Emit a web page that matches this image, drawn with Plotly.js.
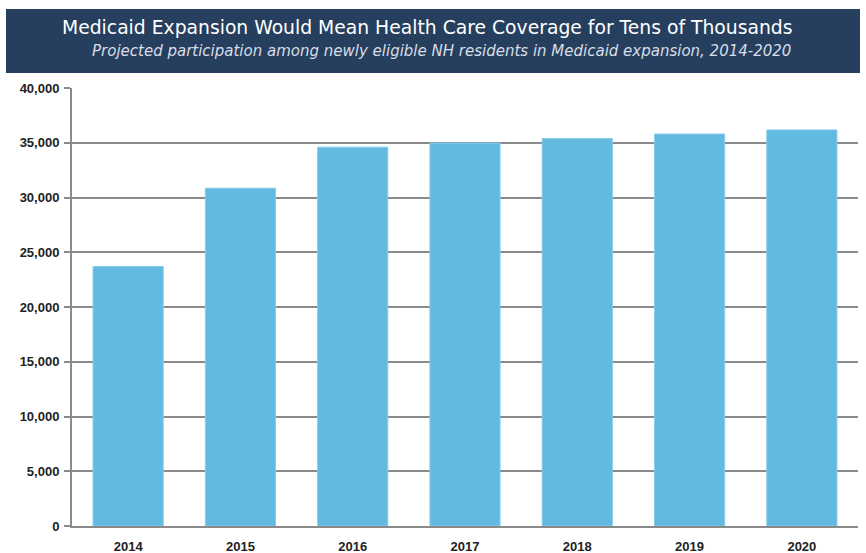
<!DOCTYPE html>
<html>
<head>
<meta charset="utf-8">
<script src="https://cdn.plot.ly/plotly-3.0.1.min.js"></script>
<style>html,body{margin:0;padding:0;background:#fff;}#chart{width:866px;height:553px;}</style>
</head>
<body>
<div id="chart"></div>
<script>
const years = ['2014', '2015', '2016', '2017', '2018', '2019', '2020'];
const participants = [23700, 30850, 34600, 34980, 35380, 35800, 36170];
const yTickVals = [0, 5000, 10000, 15000, 20000, 25000, 30000, 35000, 40000];
const yTickText = ['0', '5,000', '10,000', '15,000', '20,000', '25,000', '30,000', '35,000', '40,000'];
const titleText = 'Medicaid Expansion Would Mean Health Care Coverage for Tens of Thousands';
const subtitleText = 'Projected participation among newly eligible NH residents in Medicaid expansion, 2014-2020';

const W = 866, H = 553;
const L = 72, R = 8, T = 88, B = 27;
const pw = W - L - R, ph = H - T - B;
const px = x => (x - L) / pw;
const py = y => (H - B - y) / ph;

const trace = {
  type: 'bar',
  x: years,
  y: participants,
  marker: {color: '#63bae0', line: {color: '#86cbe9', width: 1}},
  hoverinfo: 'x+y'
};

const tickFont = {family: 'Liberation Sans, Arial, sans-serif', size: 13, color: '#222', weight: 'bold'};

const layout = {
  width: W, height: H,
  margin: {l: L, r: R, t: T, b: B, pad: 0},
  paper_bgcolor: '#ffffff',
  plot_bgcolor: '#ffffff',
  showlegend: false,
  bargap: 0.375,
  font: {family: 'Liberation Sans, Arial, sans-serif', color: '#222'},
  xaxis: {
    type: 'category',
    showgrid: false,
    showline: true, linecolor: '#8a8a8a', linewidth: 2,
    ticks: '',
    ticklabelstandoff: 7,
    tickfont: tickFont,
    fixedrange: true
  },
  yaxis: {
    range: [0, 40000],
    tickvals: yTickVals, ticktext: yTickText,
    showgrid: true, gridcolor: '#8a8a8a', gridwidth: 2,
    zeroline: false,
    showline: true, linecolor: '#8a8a8a', linewidth: 2,
    ticks: 'outside', ticklen: 6, tickcolor: '#8a8a8a', tickwidth: 2,
    ticklabelstandoff: 2,
    tickfont: tickFont,
    fixedrange: true
  },
  shapes: [{
    type: 'rect', xref: 'paper', yref: 'paper',
    x0: px(6), x1: px(860), y0: py(73), y1: py(9),
    fillcolor: '#263f5f', line: {width: 0}, layer: 'below'
  }],
  annotations: [
    {xref: 'paper', yref: 'paper', x: px(427), y: py(27), xanchor: 'center', yanchor: 'middle', showarrow: false,
     text: titleText, font: {family: 'DejaVu Sans, sans-serif', size: 18.75, color: '#ffffff'}},
    {xref: 'paper', yref: 'paper', x: px(441), y: py(51), xanchor: 'center', yanchor: 'middle', showarrow: false,
     text: '<i>' + subtitleText + '</i>', font: {family: 'DejaVu Sans, sans-serif', size: 15, color: '#d8dde6'}}
  ]
};

Plotly.newPlot('chart', [trace], layout, {displayModeBar: false, staticPlot: true});
</script>
</body>
</html>
